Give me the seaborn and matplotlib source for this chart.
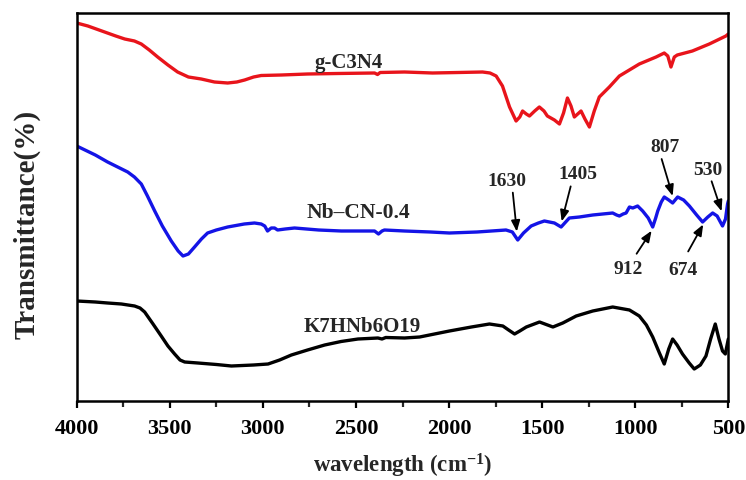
import numpy as np
import pandas as pd
import matplotlib
matplotlib.use("Agg")
import matplotlib.pyplot as plt
import seaborn as sns

# ---------------- data ----------------
red_wn = [4000, 3940, 3850, 3790, 3742, 3690, 3653, 3610, 3565, 3510, 3458, 3400, 3331, 3260,
          3189, 3140, 3098, 3050, 3009, 2900, 2760, 2600, 2400, 2384, 2370, 2239, 2089, 1950,
          1820, 1780, 1747, 1713, 1675, 1640, 1620, 1605, 1585, 1568, 1540, 1515, 1490, 1472,
          1434, 1407, 1385, 1364, 1345, 1327, 1291, 1270, 1246, 1220, 1193, 1139, 1085, 978,
          888, 844, 825, 808, 790, 774, 693, 602, 513, 500]
red_t = [378, 375, 369, 365, 362, 360, 357, 351, 344, 336, 329, 324, 322, 319,
         318, 319, 321, 324, 325.5, 326, 327, 327.5, 328, 326.5, 328.5, 329, 328, 328.5,
         329, 328, 325, 315, 294, 280, 284, 290, 287, 285, 290, 294, 290, 285,
         281, 277, 288, 303, 295, 284, 290, 282, 274, 290, 304, 314, 325, 337,
         344, 348, 345, 334, 344, 346, 350, 357, 365, 367]

blue_wn = [4000, 3900, 3834, 3780, 3726, 3690, 3653, 3620, 3581, 3540, 3492, 3455, 3429, 3400,
           3367, 3330, 3297, 3250, 3189, 3100, 3045, 3009, 2990, 2975, 2955, 2937, 2921, 2880,
           2830, 2700, 2579, 2400, 2379, 2360, 2347, 2239, 2100, 1998, 1850, 1694, 1660, 1631,
           1600, 1559, 1520, 1488, 1434, 1398, 1354, 1300, 1228, 1121, 1100, 1085, 1065, 1049,
           1031, 1013, 987, 960, 930, 906, 890, 879, 860, 844, 820, 799, 772, 740, 709, 670,
           638, 610, 584, 560, 531, 515, 504, 500]
blue_t = [255, 246, 239, 234, 229, 224, 217, 205, 190, 175, 160, 150, 145, 147,
          154, 162, 168, 171, 174, 177, 178, 177, 175, 170, 173, 173, 171, 172,
          173, 171, 170, 170, 167, 170, 171, 170, 169, 168, 169, 171, 169, 161,
          168, 175, 178, 180, 178, 174, 183, 184, 186, 188, 186, 185, 187, 188,
          194, 193, 195, 190, 183, 174, 183, 190, 199, 204, 201, 198, 204, 201, 195, 186,
          179, 184, 188, 185, 175, 182, 197, 200]

black_wn = [4000, 3900, 3834, 3760, 3689, 3660, 3635, 3590, 3546, 3510, 3474, 3445, 3420, 3349,
            3250, 3169, 3050, 2972, 2910, 2847, 2760, 2668, 2580, 2489, 2382, 2360, 2340, 2239,
            2158, 1998, 1880, 1783, 1711, 1680, 1648, 1620, 1585, 1514, 1442, 1389, 1317, 1228,
            1121, 1031, 978, 940, 906, 870, 844, 820, 799, 775, 746, 710, 683, 650, 620, 595,
            570, 550, 531, 516, 500]
black_t = [100, 99, 98, 97, 95, 93, 89, 77, 65, 55, 47, 41, 39, 38,
           36.5, 35, 36, 37, 41, 46, 51, 56, 59.5, 62, 63, 62, 63.5, 63,
           64, 70, 74, 77, 75, 71, 67, 70, 74, 79, 74, 78, 85, 90,
           94, 91, 85, 76, 64, 48, 37, 52, 62, 56, 47, 38, 32, 36, 45, 62,
           77, 62, 50, 47, 62]

series_names = ["g-C3N4", "Nb\u2013CN-0.4", "K7HNb6O19"]
series_colors = ["#e8141b", "#1414e6", "#000000"]

x_ticks = [4000, 3500, 3000, 2500, 2000, 1500, 1000, 500]

ann_labels = ["1630", "1405", "807", "530", "912", "674"]
ann_wn = [1636, 1395, 799, 536, 912, 635]

# ---------------- figure ----------------
sns.set_theme(style="white")
plt.rcParams["font.family"] = ["Liberation Serif", "DejaVu Serif"]
plt.rcParams["font.weight"] = "bold"
plt.rcParams["mathtext.fontset"] = "custom"
plt.rcParams["mathtext.rm"] = "Liberation Serif:bold"
plt.rcParams["mathtext.bf"] = "Liberation Serif:bold"
plt.rcParams["mathtext.default"] = "bf"

fig = plt.figure(figsize=(7.46, 4.81), dpi=100)
ax = fig.add_axes([76.7 / 746, 1 - 402 / 481, (728.3 - 76.7) / 746, (402 - 14) / 481])

frames = []
for name, wn, t in zip(series_names, [red_wn, blue_wn, black_wn], [red_t, blue_t, black_t]):
    frames.append(pd.DataFrame({"wn": wn, "T": t, "sample": name}))
df = pd.concat(frames, ignore_index=True)

sns.lineplot(data=df, x="wn", y="T", hue="sample", palette=dict(zip(series_names, series_colors)),
             sort=False, estimator=None, units="sample", linewidth=2.4, legend=False, ax=ax)

ax.set_xlim(4000, 500)
ax.set_ylim(0, 388)
ax.set_xticks(x_ticks)
ax.set_xticklabels([str(v) for v in x_ticks])
ax.set_xticks(np.arange(500, 4001, 250), minor=True)
ax.set_yticks([])
ax.tick_params(axis="x", which="major", direction="out", length=5, width=1.6,
               labelsize=16, pad=7, bottom=True, colors="black")
ax.tick_params(axis="x", which="minor", direction="out", length=4, width=1.6, bottom=True)
for lab in ax.get_xticklabels():
    lab.set_fontweight("bold")
for sp in ax.spines.values():
    sp.set_color("black")
    sp.set_linewidth(1.8)

ax.set_xlabel("wavelength (cm$^{-1}$)", fontsize=16.5, fontweight="bold")
ax.xaxis.set_label_coords(0.5, (402 - 466) / 388, transform=ax.transAxes)
ax.xaxis.label.set_verticalalignment("center")
ax.set_ylabel("Transmittance(%)", fontsize=21, fontweight="bold")
ax.yaxis.set_label_coords((27 - 76.7) / 651.6, (402 - 224) / 388, transform=ax.transAxes)
ax.yaxis.label.set_verticalalignment("center")

# curve labels
ax.text(2537, 333.7, series_names[0], ha="center", va="baseline", fontsize=15, fontweight="bold")
ax.text(2489, 183.7, series_names[1], ha="center", va="baseline", fontsize=15.5, fontweight="bold")
ax.text(2468, 70.3, series_names[2], ha="center", va="baseline", fontsize=15, fontweight="bold")

# annotations on the blue curve: (tip gap, tail dx, tail dy, text dx, text dy) in pixels
layout = {
    "1630": (7, -4, 39, -10, 47),
    "1405": (5, 9, 35, 16, 43),
    "807": (7, -11, 37, -8, 45),
    "530": (13, -10, 30, -14, 37),
    "912": (-6, -15, -23, -23, -42),
    "674": (-3, -15, -27, -20, -50),
}
bw = np.array(blue_wn[::-1], dtype=float)
bt = np.array(blue_t[::-1], dtype=float)
for lab, w in zip(ann_labels, ann_wn):
    gap, tdx, tdy, xdx, xdy = layout[lab]
    y_curve = np.interp(w, bw, bt)
    tip = (w, y_curve + gap)
    ax.annotate("", xy=tip, xytext=(tdx, tdy), textcoords="offset pixels",
                arrowprops=dict(arrowstyle="-|>,head_length=0.55,head_width=0.22",
                                color="black", lw=1.3, mutation_scale=12,
                                shrinkA=0, shrinkB=0))
    ax.annotate(lab, xy=tip, xytext=(xdx, xdy), textcoords="offset pixels",
                ha="center", va="baseline", fontsize=14, fontweight="bold")

fig.savefig("out.png", dpi=100)
